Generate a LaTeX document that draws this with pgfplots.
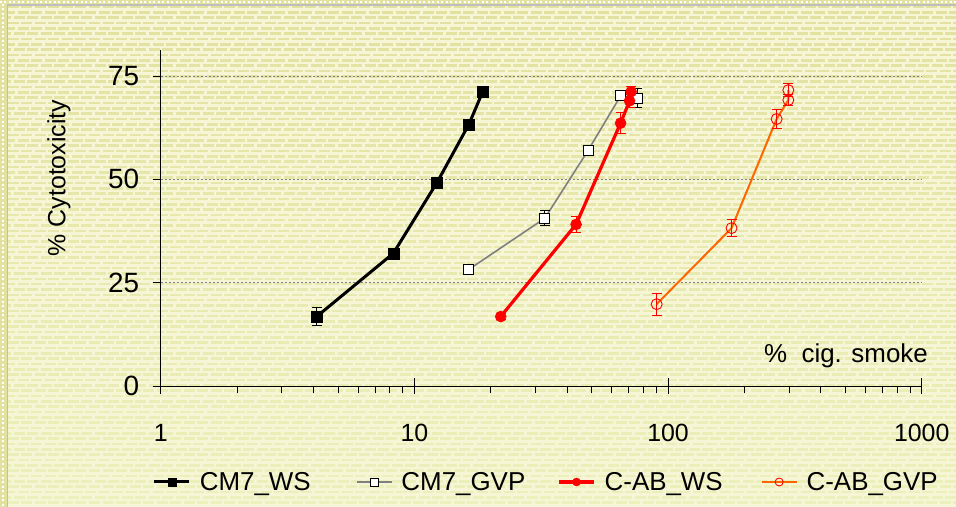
\documentclass[border=0pt]{standalone}
\usepackage{pgfplots}
\pgfplotsset{compat=1.18}
\usepackage{fontspec}
\setmainfont{Liberation Sans}
\definecolor{bgbase}{RGB}{246,246,214}
\definecolor{stripetop}{RGB}{226,225,160}
\definecolor{stripebot}{RGB}{236,242,190}
\definecolor{framegray}{RGB}{190,190,190}
\definecolor{orangeline}{RGB}{255,102,0}

\pgfplotstableread{
x y e
4.12 16.8 2.2
8.26 32.1 0.8
12.3 49.3 0.8
16.4 63.3 1.0
18.6 71.2 0.5
}\cmws
\pgfplotstableread{
x y e
16.3 28.1 1.0
32.7 40.6 1.8
48.5 57.1 0.8
65.0 70.2 0.8
75.6 69.6 2.3
}\cmgvp
\pgfplotstableread{
x y e
21.9 16.8 0.8
43.4 39.1 2.0
65.0 63.6 2.6
70.5 69.0 1.5
71.5 71.2 1.3
}\cabws
\pgfplotstableread{
x y e
90.2 19.8 2.7
178 38.2 2.1
268 64.6 2.3
298 69.2 1.3
298 71.6 1.5
}\cabgvp

\begin{document}
\begin{tikzpicture}
% background in image pixel coordinates
\begin{scope}[shift={(-160.7bp,386bp)}, x=1bp, y=-1bp]
  \useasboundingbox (0,0) rectangle (956,507);
  \fill[stripetop] (0,0) rectangle (956,507);
  \fill[bgbase] (7.5,5) rectangle (956,507);
  \foreach \i in {0,...,94} {
    \pgfmathsetmacro{\yy}{7+\i*5.33}
    \pgfmathtruncatemacro{\pc}{100-\i}
    \draw[stripetop!\pc!stripebot, line width=2.6bp, dash pattern=on 11bp off 2.5bp, dash phase={mod(\i,3)*4}] (8,\yy) -- (956,\yy);
  }
  \draw[white, line width=1.5bp, dash pattern=on 2bp off 2.5bp] (0,2) -- (956,2);
  \draw[white, line width=1.5bp, dash pattern=on 2bp off 2.5bp] (3,4) -- (3,507);
  \draw[framegray, line width=1.2bp] (7.5,507) -- (7.5,5) -- (956,5);
\end{scope}
\begin{axis}[
  scale only axis,
  width=761bp, height=336bp,
  xmode=log, xmin=1, xmax=1000,
  ymin=0, ymax=81.3,
  axis x line*=bottom, axis y line*=left,
  axis line style={-, line width=0.8bp, black},
  xtick={1,10,100,1000},
  xticklabels={1,10,100,1000},
  ytick={0,25,50,75},
  tick align=outside,
  major tick length=8bp, minor tick length=7bp,
  tick style={black, line width=0.8bp},
  extra x ticks={1,10,100,1000},
  extra x tick labels={},
  extra x tick style={tick align=inside, major tick length=8bp},
  /pgf/number format/assume math mode=true,
  xticklabel style={font=\fontsize{25}{30}\selectfont, yshift=-27bp},
  yticklabel style={font=\fontsize{28}{32}\selectfont, xshift=-10bp},
  ymajorgrids,
  grid style={gray, line width=0.5bp, dash pattern=on 2bp off 2bp},
  ylabel={\% Cytotoxicity},
  every axis y label/.style={at={(axis description cs:-0.1336,0.619)}, rotate=90, anchor=center, font=\fontsize{25}{30}\selectfont},
  xlabel={\%\ \ cig. smoke},
  every axis x label/.style={at={(axis description cs:0.9005,0.089)}, anchor=center, font=\fontsize{26}{30}\selectfont},
  legend columns=4,
  legend style={at={(axis description cs:-0.0105,-0.2857)}, anchor=west, draw=none, fill=none,
    font=\fontsize{26}{30}\selectfont, inner sep=0pt,
    /tikz/every odd column/.append style={column sep=7bp}},
  legend image code/.code={\draw[mark repeat=2,mark phase=2, mark size=4bp] plot coordinates {(0bp,0bp) (17.5bp,0bp) (35bp,0bp)};},
  error bars/y dir=both, error bars/y explicit,
  clip=false,
]
\addplot[black, line width=3bp, mark=square*, mark size=5.5bp, mark options={solid, line width=0.5bp},
  error bars/error bar style={black, line width=0.8bp},
  error bars/error mark options={rotate=90, mark size=5bp, black, line width=0.8bp}]
  table[x=x, y=y, y error=e] {\cmws};
\addlegendentry{\makebox[154bp][l]{CM7\_WS}}
\addplot[gray, line width=1.6bp, mark=square*, mark size=5bp, mark options={solid, draw=black, fill=white, line width=0.8bp},
  error bars/error bar style={black, line width=0.8bp},
  error bars/error mark options={rotate=90, mark size=5bp, black, line width=0.8bp}]
  table[x=x, y=y, y error=e] {\cmgvp};
\addlegendentry{\makebox[154bp][l]{CM7\_GVP}}
\addplot[red, line width=3.2bp, mark=*, mark size=5.5bp, mark options={solid, line width=0.5bp},
  error bars/error bar style={red, line width=0.8bp},
  error bars/error mark options={rotate=90, mark size=5bp, red, line width=0.8bp}]
  table[x=x, y=y, y error=e] {\cabws};
\addlegendentry{\makebox[154bp][l]{C-AB\_WS}}
\addplot[orangeline, line width=2bp, mark=o, mark size=5.5bp, mark options={solid, red, line width=0.9bp},
  error bars/error bar style={red, line width=0.8bp},
  error bars/error mark options={rotate=90, mark size=5bp, red, line width=0.8bp}]
  table[x=x, y=y, y error=e] {\cabgvp};
\addlegendentry{C-AB\_GVP}
\end{axis}
\end{tikzpicture}
\end{document}
